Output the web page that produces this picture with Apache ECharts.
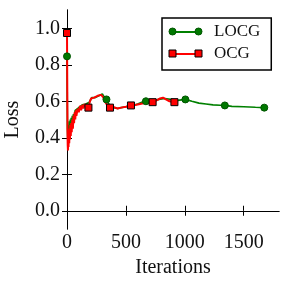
<!DOCTYPE html>
<html><head><meta charset="utf-8">
<script src="https://cdn.jsdelivr.net/npm/echarts@6/dist/echarts.min.js"></script>
<style>html,body{margin:0;padding:0;background:#fff}#c{width:291px;height:291px}</style>
</head><body><div id="c"></div>
<script>
// LOCG series
const locgIter = [0,2,4,6,8,11,14,17,20,24,28,32,36,40,45,50,55,60,70,80,90,100,110,120,130,145,160,175,190,200,210,225,240,255,270,285,300,310,320,335,350,365,380,400,430,460,500,550,600,640,670,720,780,830,880,940,1005,1060,1120,1180,1240,1300,1340,1400,1500,1600,1675];
const locgLoss = [0.846,0.60,0.45,0.40,0.47,0.41,0.46,0.42,0.49,0.44,0.50,0.46,0.51,0.47,0.52,0.49,0.53,0.51,0.55,0.54,0.56,0.55,0.57,0.565,0.58,0.57,0.585,0.58,0.595,0.60,0.62,0.61,0.62,0.615,0.63,0.625,0.64,0.63,0.62,0.61,0.59,0.575,0.57,0.565,0.56,0.565,0.57,0.575,0.585,0.595,0.60,0.60,0.61,0.615,0.61,0.605,0.61,0.60,0.59,0.585,0.58,0.578,0.577,0.572,0.57,0.567,0.565];
const locgMarkIter = [0,335,670,1005,1340,1675];
// OCG series
const ocgIter = [0,2,4,6,8,10,13,16,19,22,25,28,32,36,40,45,50,55,60,65,70,75,80,90,100,110,120,130,140,150,160,170,182,195,205,215,230,245,260,275,290,300,310,320,335,350,365,385,400,430,460,500,543,580,620,660,700,727,760,790,815,840,870,912];
const ocgLoss = [0.974,0.72,0.45,0.36,0.33,0.40,0.35,0.43,0.37,0.45,0.39,0.47,0.41,0.48,0.43,0.50,0.45,0.52,0.48,0.54,0.50,0.55,0.52,0.56,0.54,0.575,0.55,0.58,0.56,0.585,0.57,0.58,0.565,0.60,0.615,0.605,0.62,0.615,0.63,0.62,0.635,0.64,0.62,0.60,0.585,0.575,0.565,0.57,0.57,0.56,0.565,0.57,0.577,0.58,0.585,0.59,0.59,0.595,0.605,0.615,0.62,0.61,0.60,0.595];
const ocgMarkIter = [0,182,365,543,727,912];
// ticks
const xTicks = [0,500,1000,1500];
const yTicks = [0,0.2,0.4,0.6,0.8,1.0];

function build(iters, vals, marks){
  return iters.map((x,i)=>{
    const d = {value:[x, vals[i]]};
    if (marks.indexOf(x) < 0) d.symbol = 'none';
    return d;
  });
}
const font = 'Liberation Serif';
const txt = '#111';
const ax = {
  axisLine:{show:true,lineStyle:{color:'#000',width:1}},
  splitLine:{show:false}
};
function ticks(vals){ return {show:true,inside:true,length:5,customValues:vals,lineStyle:{color:'#000',width:1}}; }
const chart = echarts.init(document.getElementById('c'), null, {renderer:'canvas'});
// legend icon end-markers (legend decoration)
const legL = 162, legT = 18, iconX0 = 172.5, iconX1 = 198.5, row0 = 31.5, row1 = 53.5;
chart.setOption({
  animation:false,
  backgroundColor:'#fff',
  grid:{left:67,right:12,top:10,bottom:62,containLabel:false,outerBoundsMode:'none'},
  xAxis:[
    Object.assign({type:'value',position:'bottom',min:0,max:1800,
      name:'Iterations',nameLocation:'middle',nameGap:28,
      nameTextStyle:{fontFamily:font,fontSize:20,color:txt},
      axisLabel:{customValues:xTicks,fontFamily:font,fontSize:20,color:txt,margin:4,formatter:v=>String(v)},
      axisTick:ticks(xTicks)}, ax),
    Object.assign({type:'value',position:'top',min:0,max:1800,
      axisLabel:{show:false},axisTick:ticks(xTicks)}, ax)
  ],
  yAxis:[
    Object.assign({type:'value',position:'left',min:-0.1,max:1.1,
      name:'Loss',nameLocation:'middle',nameGap:44,
      nameTextStyle:{fontFamily:font,fontSize:20,color:txt},
      axisLabel:{customValues:yTicks,fontFamily:font,fontSize:20,color:txt,margin:7,formatter:v=>v.toFixed(1)},
      axisTick:ticks(yTicks)}, ax),
    Object.assign({type:'value',position:'right',min:-0.1,max:1.1,
      axisLabel:{show:false},axisTick:ticks(yTicks)}, ax)
  ],
  legend:{
    show:true, left:legL, top:legT, orient:'vertical',
    padding:[4,11,6,10], itemGap:2, itemWidth:26, itemHeight:9,
    borderColor:'#000', borderWidth:1.5, backgroundColor:'#fff',
    itemStyle:{opacity:0},
    textStyle:{fontFamily:font,fontSize:17,color:txt,lineHeight:20,padding:[0,0,0,10]},
    data:['LOCG','OCG']
  },
  graphic:[
    {type:'circle',shape:{cx:iconX0,cy:row0,r:3.5},style:{fill:'#007800',stroke:'#005500',lineWidth:1},z:100},
    {type:'circle',shape:{cx:iconX1,cy:row0,r:3.5},style:{fill:'#007800',stroke:'#005500',lineWidth:1},z:100},
    {type:'rect',shape:{x:iconX0-3.5,y:row1-3.5,width:7,height:7},style:{fill:'#ff0000',stroke:'#000',lineWidth:1},z:100},
    {type:'rect',shape:{x:iconX1-3.5,y:row1-3.5,width:7,height:7},style:{fill:'#ff0000',stroke:'#000',lineWidth:1},z:100}
  ],
  series:[
    {name:'LOCG',type:'line',data:build(locgIter,locgLoss,locgMarkIter),
     symbol:'circle',symbolSize:7,showAllSymbol:true,
     lineStyle:{color:'#008000',width:1.7},
     itemStyle:{color:'#007800',borderColor:'#005500',borderWidth:1}},
    {name:'OCG',type:'line',data:build(ocgIter,ocgLoss,ocgMarkIter),
     symbol:'rect',symbolSize:7,showAllSymbol:true,
     lineStyle:{color:'#ff0000',width:2},
     itemStyle:{color:'#ff0000',borderColor:'#000',borderWidth:1}}
  ]
});
</script></body></html>
